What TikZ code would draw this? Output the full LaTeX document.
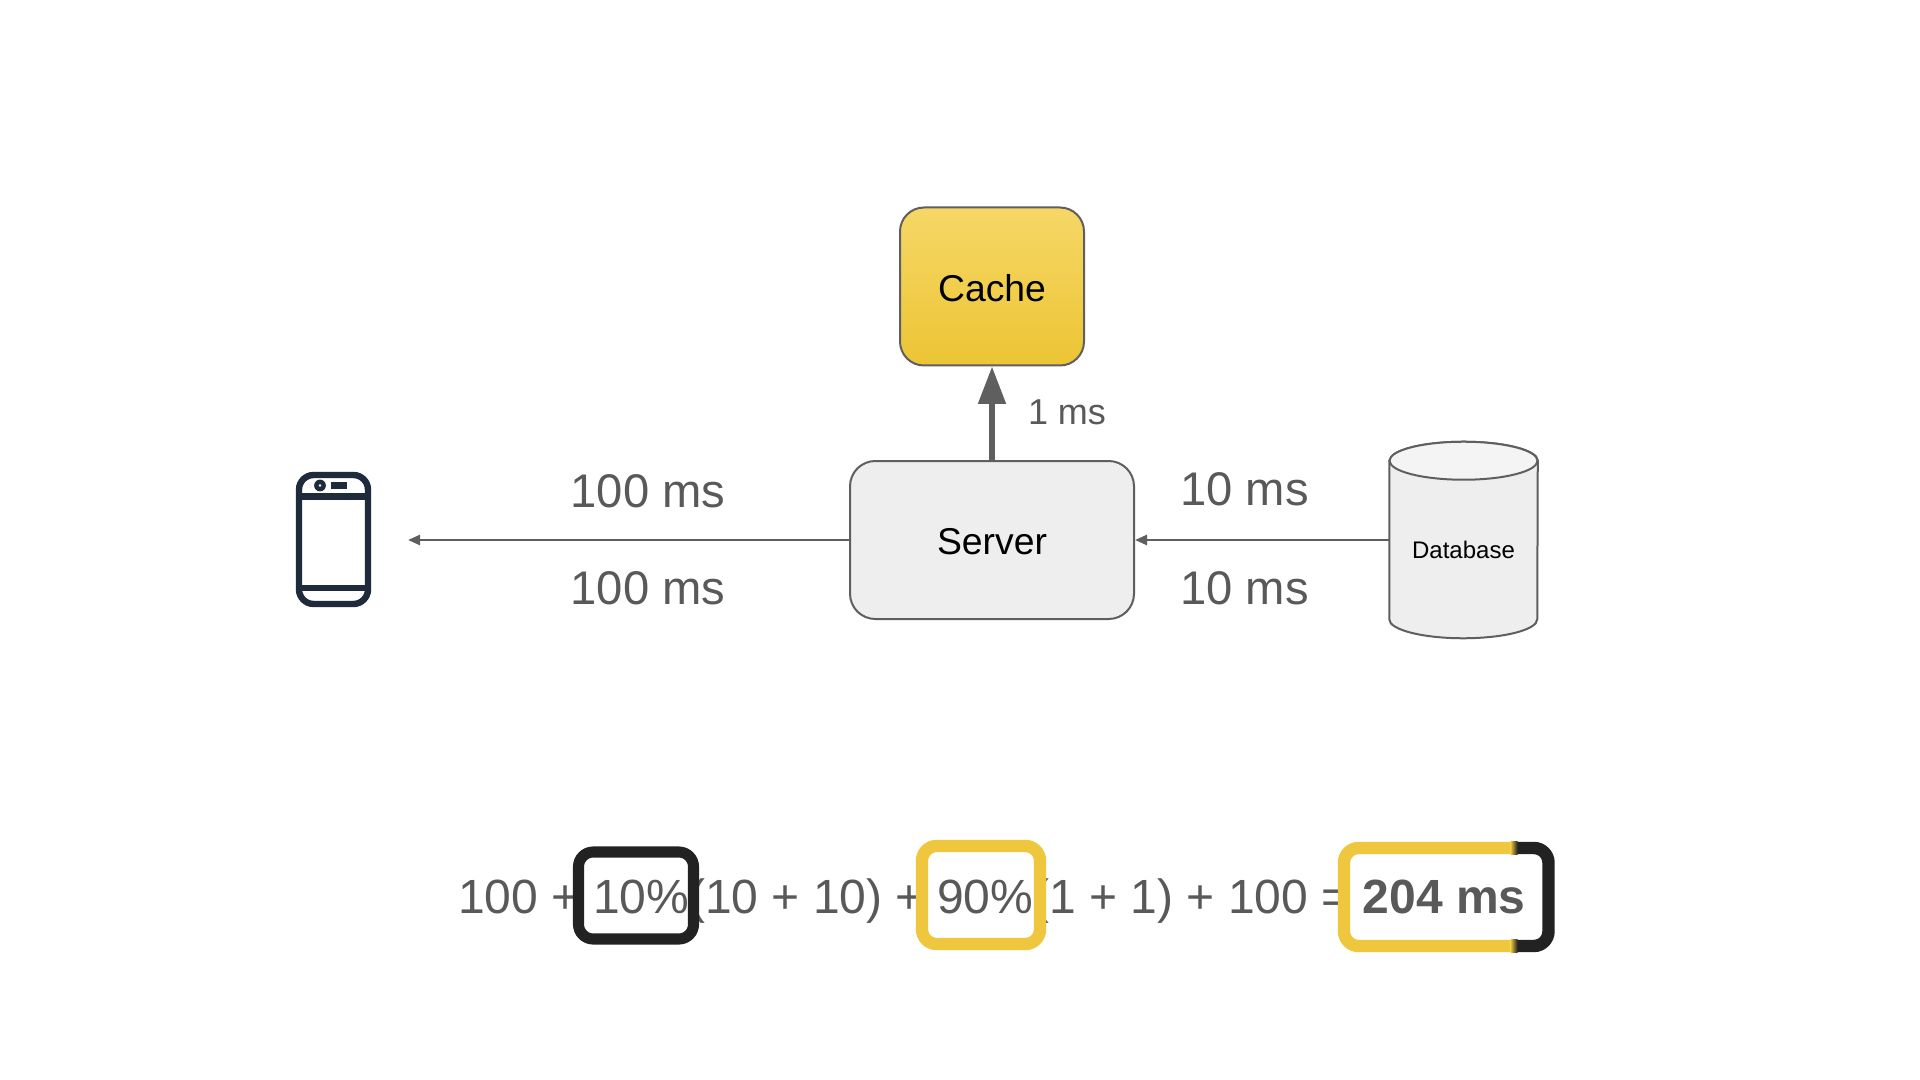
\documentclass[tikz,border=0pt]{standalone}
\usepackage{fontspec}
\setmainfont{Liberation Sans}
\usetikzlibrary{arrows.meta,shapes.geometric}
\definecolor{linegray}{HTML}{5F5F5F}
\definecolor{txtgray}{HTML}{595959}
\definecolor{boxgray}{HTML}{EEEEEE}
\definecolor{topgray}{HTML}{F4F4F4}
\definecolor{ink}{HTML}{222222}
\definecolor{gold}{HTML}{EFC73E}
\definecolor{goldtop}{HTML}{F6D766}
\definecolor{goldbot}{HTML}{ECC534}
\definecolor{phoneink}{HTML}{1F2B3B}
\tikzset{
  blockbox/.style={draw=linegray,line width=1.5pt,inner sep=0pt,text=black,font=\fontsize{28}{30}\selectfont},
  thinarrow/.style={draw=linegray,line width=1.9pt,-{Triangle[length=9pt,width=7.5pt]}},
  fatarrow/.style={draw=linegray,line width=4.2pt,-{Triangle[length=28pt,width=20pt]}},
  biglabel/.style={text=txtgray,font=\fontsize{35.4}{38}\selectfont,anchor=base,inner sep=0pt},
  eqtext/.style={text=txtgray,font=\fontsize{36}{40}\selectfont,anchor=base west,inner sep=0pt},
  phoneline/.style={draw=phoneink,line width=4.8pt},
  frame/.style={rounded corners=11pt,line width=8.3pt}
}
\begin{document}
\begin{tikzpicture}[x=0.75pt,y=-0.75pt]
\useasboundingbox (0,0) rectangle (1920,1080);
\fill[white] (0,0) rectangle (1920,1080);

% nodes
\node[blockbox,rounded corners=18pt,top color=goldtop,bottom color=goldbot,minimum width=138pt,minimum height=118.5pt] (cache) at (992,286.5) {\raisebox{-0.75pt}[\height][0pt]{Cache}};
\node[blockbox,rounded corners=19pt,fill=boxgray,minimum width=213pt,minimum height=118.5pt] (server) at (992,540) {\raisebox{-0.9pt}[\height][0pt]{Server}};
\node[minimum width=111pt,minimum height=147pt,inner sep=0pt] (db) at (1463.5,540) {};
\coordinate (phonetip) at (408,540);
\coordinate (dbport) at (1389,540);

% database
\draw[draw=linegray,line width=1.5pt,fill=boxgray]
  (db.north west) ++(0,19) -- ([yshift=14.25pt]db.south west)
  arc[x radius=55.5pt,y radius=14.25pt,start angle=180,end angle=360]
  -- ([yshift=-14.25pt]db.north east)
  arc[x radius=55.5pt,y radius=14.25pt,start angle=0,end angle=180] -- cycle;
\draw[draw=linegray,line width=1.5pt,fill=topgray] ([yshift=-14.25pt]db.north) ellipse[x radius=55.5pt,y radius=14.25pt];
\node[text=black,font=\fontsize{18}{20}\selectfont,inner sep=0pt] (dbtext) at (1463.5,550) {Database};

% connectors
\draw[thinarrow] (server.west) -- (phonetip);
\draw[thinarrow] (dbport) -- (server.east);
\draw[fatarrow] (server.north) -- (cache.south);

% labels
\node[biglabel] (a1) at (648,507) {100 ms};
\node[biglabel] (a2) at (648,604) {100 ms};
\node[biglabel] (b1) at (1244.5,505) {10 ms};
\node[biglabel] (b2) at (1244.5,604) {10 ms};
\node[text=txtgray,font=\fontsize{27}{30}\selectfont,anchor=base,inner sep=0pt] (c1) at (1067,425) {1 ms};

% phone
\draw[phoneline,rounded corners=11pt] (299,475) rectangle (368,604);
\draw[phoneline] (299,496.5) -- (368,496.5);
\draw[phoneline] (299,588) -- (368,588);
\fill[phoneink] (320,485.5) circle[radius=4.4pt];
\fill[white] (320,485.5) circle[radius=1pt];
\fill[phoneink] (331,482) rectangle (347,489);

% formula
\node[eqtext] (eq) at (458,913.5) {100 + 10\%(10 + 10) + 90\%(1 + 1) + 100 =};
\node[eqtext,font=\fontsize{36}{40}\selectfont\bfseries] (res) at (1362.5,913.5) {204 ms};

% highlight frames
\draw[frame,draw=ink] (578.5,852) rectangle (693.5,939);
\draw[frame,draw=gold,line width=9.3pt] (922,846) rectangle (1040,944);
\begin{scope}
  \clip (1300,830) rectangle (1511,960);
  \draw[frame,draw=gold,line width=9.3pt] (1344,848) rectangle (1548.5,946);
\end{scope}
\begin{scope}
  \clip (1517,830) rectangle (1570,960);
  \draw[frame,draw=ink,line width=9.3pt] (1344,848) rectangle (1548.5,946);
\end{scope}
\shade[left color=gold,right color=ink] (1510.5,841.8) rectangle (1517.5,854.2);
\shade[left color=gold,right color=ink] (1510.5,939.8) rectangle (1517.5,952.2);
\end{tikzpicture}
\end{document}
